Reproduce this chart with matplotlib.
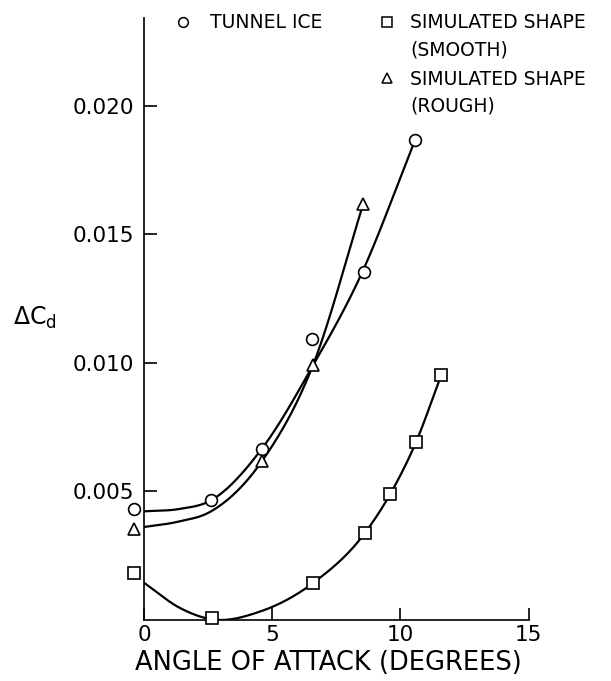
import numpy as np
import matplotlib
matplotlib.use('Agg')
import matplotlib.pyplot as plt
from matplotlib.lines import Line2D

# measured points (the x=0 points are drawn just left of the axis)
ice_x = [-0.4, 2.6, 4.6, 6.57, 8.59, 10.57]
ice_y = [0.00431, 0.00464, 0.00665, 0.01093, 0.01351, 0.01865]

smooth_x = [-0.4, 2.67, 6.61, 8.62, 9.61, 10.61, 11.59]
smooth_y = [0.00182, 0.00007, 0.00143, 0.00337, 0.00489, 0.0069, 0.0095]

rough_x = [-0.4, 4.6, 6.6, 8.55]
rough_y = [0.00354, 0.00616, 0.00992, 0.01617]

# faired curves
ice_curve_x = [0, 1.37, 2.6, 4.6, 6.6, 8.46, 10.57]
ice_curve_y = [0.00421, 0.0043, 0.00463, 0.00665, 0.0099, 0.0134, 0.01865]

rough_curve_x = [0, 1.3, 2.6, 4.6, 6.6, 8.55]
rough_curve_y = [0.0036, 0.0038, 0.0042, 0.00616, 0.00992, 0.01617]

smooth_curve_x = [0, 1.4, 2.7, 4.5, 6.61, 8.62, 9.61, 10.61, 11.59]
smooth_curve_y = [0.00143, 0.00045, 0.0, 0.0003, 0.00143, 0.00337, 0.00489, 0.0069, 0.0095]

xticks = [0, 5, 10, 15]
yticks = [0.005, 0.010, 0.015, 0.020]
ytick_labels = ['0.005', '0.010', '0.015', '0.020']


def faired(xk, yk, n=300):
  # cubic hermite through the knots, tangents from np.gradient
  xk = np.asarray(xk, float)
  yk = np.asarray(yk, float)
  m = np.gradient(yk, xk)
  xs = np.linspace(xk[0], xk[-1], n)
  i = np.clip(np.searchsorted(xk, xs) - 1, 0, len(xk) - 2)
  h = xk[i + 1] - xk[i]
  t = (xs - xk[i]) / h
  ys = ((2 * t**3 - 3 * t**2 + 1) * yk[i] + (t**3 - 2 * t**2 + t) * h * m[i]
        + (-2 * t**3 + 3 * t**2) * yk[i + 1] + (t**3 - t**2) * h * m[i + 1])
  return xs, ys


W, H = 611, 681
fig = plt.figure(figsize=(W / 100, H / 100), dpi=100)
ax = fig.add_axes([144 / W, 1 - 619.5 / H, (528.5 - 144) / W, (619.5 - 18) / H])

lw = 1.6
for cx, cy in [(ice_curve_x, ice_curve_y), (rough_curve_x, rough_curve_y),
               (smooth_curve_x, smooth_curve_y)]:
  xs, ys = faired(cx, cy)
  ax.plot(xs, ys, color='black', lw=lw, solid_capstyle='round', zorder=2)

mk = dict(color='black', mfc='white', mec='black', mew=1.2, ls='none', clip_on=False, zorder=3)
ax.plot(ice_x, ice_y, marker='o', ms=8.5, **mk)
ax.plot(smooth_x, smooth_y, marker='s', ms=8, **mk)
ax.plot(rough_x, rough_y, marker='^', ms=8.5, **mk)

ax.set_xlim(0, 15)
ax.set_ylim(0, 0.02341)
ax.spines['top'].set_visible(False)
ax.spines['right'].set_visible(False)
for s in ('left', 'bottom'):
  ax.spines[s].set_linewidth(1.2)

ax.set_xticks(xticks)
ax.set_xticklabels([str(v) for v in xticks])
ax.set_yticks(yticks)
ax.set_yticklabels(ytick_labels)
ax.tick_params(axis='both', direction='in', length=9, width=1.2, labelsize=15.5)
ax.tick_params(axis='y', pad=7)
ax.tick_params(axis='x', pad=4)

fig.text(328.5 / W, 1 - 670 / H, 'ANGLE OF ATTACK (DEGREES)', ha='center',
         va='baseline', fontsize=18.5)
fig.text(13 / W, 1 - 318 / H, r'$\Delta\mathrm{C}_{\mathrm{d}}$', ha='left',
         va='center', fontsize=17)

# legend drawn by hand to keep the two-line labels
leg_fs = 13.5
items = [
  ('o', 183.3, 21.7, 210, ['TUNNEL ICE']),
  ('s', 387.3, 21.7, 410, ['SIMULATED SHAPE', '(SMOOTH)']),
  ('^', 387.3, 78.3, 410, ['SIMULATED SHAPE', '(ROUGH)']),
]
for marker, mx, my, tx, lines in items:
  fig.add_artist(Line2D([mx / W], [1 - my / H], transform=fig.transFigure,
                        marker=marker, ms=7, mfc='white', mec='black', mew=1.1, ls='none'))
  for k, line in enumerate(lines):
    base = my + 6.6 + k * 26.7
    fig.text(tx / W, 1 - base / H, line, ha='left', va='baseline', fontsize=leg_fs)

fig.savefig('out.png', dpi=100)
